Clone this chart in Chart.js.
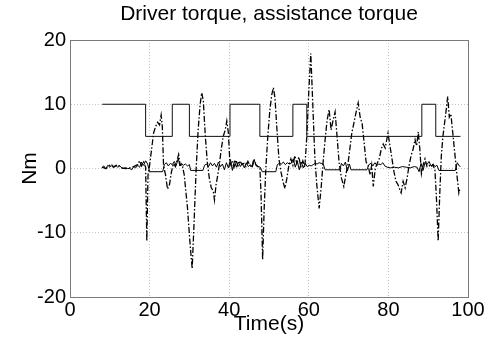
<!DOCTYPE html>
<html>
<head>
<meta charset="utf-8">
<script src="https://cdn.jsdelivr.net/npm/chart.js@4"></script>
<style>
  html, body { margin: 0; padding: 0; background: #fff; }
  #wrap { width: 488px; height: 349px; }
</style>
</head>
<body>
<div id="wrap"><canvas id="graphique"></canvas></div>
<script>
// assistance level (step signal), changes at these times
const stepTime = [8.1, 19, 25.7, 30, 40.2, 47.7, 56, 59.5, 88.4, 91.9, 98.1];
const stepTorque = [10, 5, 10, 5, 10, 5, 10, 5, 10, 5, 5];

// solid thin line near zero
const driverTime = [
  8, 8.5, 9, 9.5, 10, 10.5, 11, 11.5, 12, 12.5,
  13, 13.5, 14, 14.5, 15, 15.5, 16, 16.5, 17, 17.5,
  18, 18.5, 19, 19.5, 20, 23.3, 23.7, 24.2, 24.7, 25.2,
  25.7, 26.2, 26.7, 27.2, 27.6, 28, 28.5, 29, 29.5, 30,
  30.3, 33.4, 33.8, 34.3, 34.8, 35.3, 35.8, 36.3, 36.8, 37.3,
  37.8, 38.3, 38.8, 39.3, 39.8, 40.3, 40.8, 41.3, 41.8, 42.3,
  42.8, 43.3, 43.8, 44.3, 44.8, 45.3, 45.8, 46.3, 46.8, 47.3,
  47.8, 48.3, 51.7, 52.1, 52.6, 53.1, 53.6, 54.1, 54.6, 55.1,
  55.6, 56.1, 56.6, 57.1, 57.6, 58.1, 58.6, 59.1, 59.6, 60.1,
  60.6, 61.1, 61.6, 62.1, 62.6, 63.1, 63.6, 64.1, 67.8, 68.2,
  68.7, 69.2, 69.7, 70.2, 70.6, 74.6, 75.1, 75.6, 76.1, 76.6,
  77.1, 77.6, 78.1, 78.6, 79.1, 79.7, 80.5, 81.5, 82.5, 83.5,
  84.5, 85.5, 86.5, 87.2, 87.7, 88.2, 88.7, 89.2, 89.7, 90.2,
  90.7, 91.2, 91.7, 92.2, 92.7, 96.8, 97.3, 97.8, 98.1
];
const driverTorque = [
  0.1, 0.4, -0.1, 0.5, 0.2, 0.6, 0.3, 0.5, 0.2, 0.4,
  0.1, 0, 0.1, 0, 0, -0.2, 0.3, 0.1, 0.5, 0.2,
  1.0, 0.5, 1.2, 0.7, -0.5, -0.5, 0.6, 0.9, 0.4, 0.8,
  0.6, 1.1, 0.5, 1.6, 0.4, 0.8, 0.5, 0.7, 0.4, 0.6,
  -0.3, -0.3, 0.5, 0.7, 0.3, 0.9, 0.4, 0.8, 0.2, 1.0,
  0.3, 0.7, -0.2, 0.9, 0.1, 1.4, -0.3, 1.2, 0.2, 1.0,
  0.3, 0.8, 0.1, 0.9, 0.3, 0.6, 0.2, 1.3, 0.4, 0.3,
  0.2, -0.5, -0.5, 0.6, 0.8, 0.7, 1.0, 0.6, 0.9, 0.7,
  0.8, 1.5, 0.2, 1.2, -0.2, 1.0, 0.1, 0.8, 0.3, 0.5,
  0.4, 0.6, 0.8, 0.7, 0.9, 0.8, 0.7, -0.2, -0.2, 0.8,
  0.4, 1.0, -0.4, 0.7, -0.2, -0.2, 0.6, 0.8, 0.4, 0.9,
  0.5, 0.7, 0.6, 0.9, 0.4, 0.2, 0.1, 0.2, 0.1, 0.3,
  0.2, 0.1, 0.3, 0.2, -0.5, 0.8, -0.3, 0.9, 0.6, 1.1,
  0.4, 0.7, 0.3, 0.5, -0.3, -0.3, 0.9, 0.4, 0.3
];

// dash-dot line with the big swings
const assistTime = [
  8, 9, 10, 11, 12, 13, 14, 15, 16, 17,
  17.5, 18, 18.5, 19, 19.3, 19.6, 20, 20.5, 21, 21.5,
  22, 22.5, 22.9, 23.2, 23.5, 24, 24.5, 25, 25.5, 26,
  26.5, 27, 27.3, 27.7, 28.2, 28.7, 29.5, 30.2, 30.7, 31.2,
  31.7, 32.2, 32.7, 33.1, 33.5, 34, 34.5, 35, 35.5, 36,
  36.3, 36.7, 37, 37.5, 38, 38.5, 39, 39.4, 39.8, 40.2,
  40.7, 41.2, 41.7, 42.2, 42.7, 43.2, 43.7, 44.2, 44.7, 45.2,
  45.7, 46.2, 46.7, 47.2, 47.7, 48.0, 48.4, 48.8, 49.2, 49.7,
  50.2, 50.7, 51.1, 51.5, 52, 52.5, 53, 53.5, 54, 54.5,
  55, 55.5, 56, 56.5, 57, 57.5, 58, 58.5, 59, 59.5,
  60, 60.5, 61, 61.5, 62, 62.6, 63.1, 63.6, 64.1, 64.6,
  65.1, 65.6, 66.1, 66.6, 67.1, 67.6, 68.2, 68.8, 69.3, 69.8,
  70.3, 70.8, 71.3, 71.8, 72.4, 72.9, 73.4, 73.9, 74.4, 74.9,
  75.4, 75.8, 76.2, 76.7, 77.2, 77.7, 78.2, 78.7, 79.2, 79.9,
  80.4, 80.9, 81.4, 81.9, 82.4, 83.2, 83.7, 84.2, 84.7, 85.2,
  85.7, 86.2, 86.7, 87.1, 87.5, 87.9, 88.3, 88.7, 89.2, 89.7,
  90.2, 90.7, 91.2, 91.7, 92.1, 92.5, 92.9, 93.3, 93.7, 94.1,
  94.5, 94.9, 95.3, 95.7, 96.1, 96.5, 96.9, 97.3, 97.7, 98
];
const assistTorque = [
  0.2, 0, 0.5, 0.2, 0.6, 0.1, 0, 0.1, 0.3, 0.6,
  1.2, 0.4, 1.0, 0.2, -11.3, -1, 0.5, 3, 5.5, 6.5,
  7.2, 6.8, 8.3, 6.5, 0.5, -1, -3.2, -2.5, -0.5, 0.8,
  0.3, 1.5, 2.2, 0.5, 0.6, -1, -6, -12, -15.6, -8,
  0, 6, 10, 11.8, 10.5, 5, 1, -1.5, -3, -3.5,
  -4.9, -2.5, -1.5, 0.5, 3, 5, 6, 7.4, 5.5, 0.5,
  1.2, 0.2, 1.3, 0.4, 1.2, 0.6, 0.8, 0.3, 1.1, 0.5,
  0.2, 1.5, 0.6, 0.3, 0.2, -4, -14.2, -6, 0, 5,
  9, 11.5, 12.6, 11, 6, 1.5, -0.5, -2, -3.1, -1.5,
  0.5, 1.5, 0.5, 2, 0.8, 1.8, 0.3, 1.2, 0.2, 5,
  12, 17.9, 10, 2, -2.5, -6.2, -3, 1, 4.5, 7.5,
  9.2, 6, 7.5, 8.8, 5, 1, -1.5, -2.8, -1, 0.5,
  3, 5.5, 7, 8.5, 10.2, 8, 7, 4, 1, 0.5,
  -1, 0.5, -2.8, 0, 0.8, 1.5, 3, 3.8, 3.2, 5.5,
  3.5, 1.5, -0.5, -2, -2.5, -3.8, -2, -3, -1.5, 0.5,
  2, 3, 4.5, 3.5, 5.7, 3, -0.8, 0.5, 1.5, 0.3,
  0.5, 0.2, 0.6, -0.3, -5, -11.3, -4, 2, 5, 7,
  9, 11.2, 8, 8.5, 6, 3.5, 1, -1.5, -3.8, -3
];

const xTicks = [0, 20, 40, 60, 80, 100];
const yTicks = [-20, -10, 0, 10, 20];

const police = "'Liberation Sans', Arial, sans-serif";

function points(xs, ys) {
  return xs.map((x, i) => ({ x: x, y: ys[i] }));
}

// box around the plot area, like matlab
const cadre = {
  id: "cadre",
  afterDraw(chart) {
    const { ctx, chartArea: a } = chart;
    ctx.save();
    ctx.strokeStyle = "#7a7a7a";
    ctx.lineWidth = 1;
    ctx.strokeRect(Math.round(a.left) + 0.5, Math.round(a.top) + 0.5,
      Math.round(a.right - a.left), Math.round(a.bottom - a.top));
    ctx.restore();
  },
};

const ctx = document.getElementById("graphique").getContext("2d");
new Chart(ctx, {
  type: "line",
  data: {
    datasets: [
      {
        label: "assistance",
        data: points(stepTime, stepTorque),
        stepped: "before",
        borderColor: "#111",
        borderWidth: 1,
        pointRadius: 0,
      },
      {
        label: "driver",
        data: points(driverTime, driverTorque),
        borderColor: "#000",
        borderWidth: 1,
        pointRadius: 0,
        tension: 0,
      },
      {
        label: "assist torque",
        data: points(assistTime, assistTorque),
        borderColor: "#000",
        borderWidth: 1.3,
        borderDash: [6, 2, 1.5, 2],
        pointRadius: 0,
        tension: 0,
      },
    ],
  },
  options: {
    responsive: true,
    maintainAspectRatio: false,
    animation: false,
    layout: { padding: { left: 0, right: 20, top: 0, bottom: 0 } },
    plugins: {
      legend: { display: false },
      tooltip: { enabled: false },
      title: {
        display: true,
        fullSize: false,
        text: "Driver torque, assistance torque",
        color: "#000",
        font: { family: police, size: 21, weight: "normal" },
        padding: { top: 2, bottom: 12.8 },
      },
    },
    scales: {
      x: {
        type: "linear",
        min: 0,
        max: 100,
        afterBuildTicks: (s) => { s.ticks = xTicks.map((v) => ({ value: v })); },
        afterFit: (s) => { s.height = 52; },
        grid: { color: "#c4c4c4", drawTicks: false },
        border: { color: "#7a7a7a", dash: [1, 2] },
        ticks: { color: "#000", padding: 1, maxRotation: 0, font: { family: police, size: 20 } },
        title: {
          display: true,
          text: "Time(s)",
          color: "#000",
          font: { family: police, size: 21 },
          padding: { top: 0, bottom: 12 },
        },
      },
      y: {
        min: -20,
        max: 20,
        afterBuildTicks: (s) => { s.ticks = yTicks.map((v) => ({ value: v })); },
        afterFit: (s) => { s.width = 70; },
        grid: { color: "#c4c4c4", drawTicks: false },
        border: { color: "#7a7a7a", dash: [1, 2] },
        ticks: { color: "#000", padding: 4, font: { family: police, size: 20 } },
        title: {
          display: true,
          text: "Nm",
          color: "#000",
          font: { family: police, size: 21 },
          padding: { top: 18, bottom: 0 },
        },
      },
    },
  },
  plugins: [cadre],
});
</script>
</body>
</html>
